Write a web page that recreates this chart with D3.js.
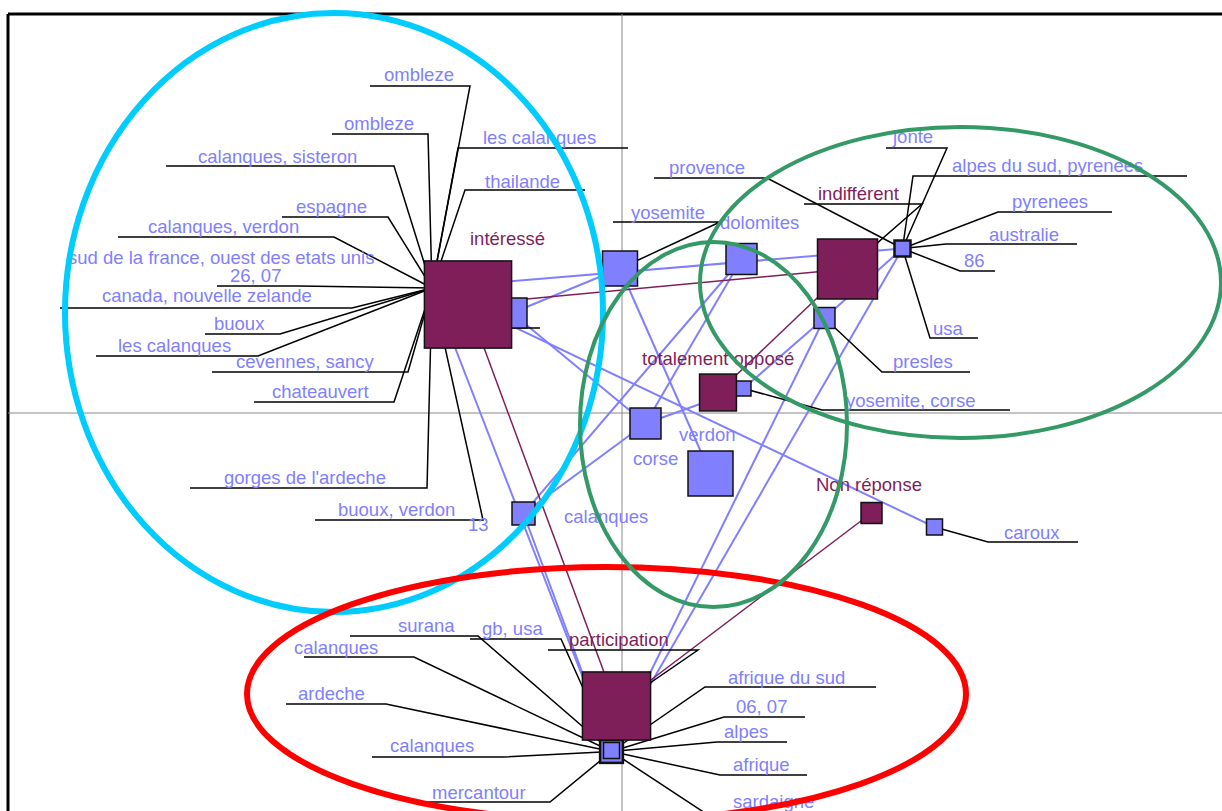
<!DOCTYPE html>
<html>
<head>
  <meta charset="utf-8">
  <title>AFC intérêt / lieux</title>
  <style>
    body { margin: 0; background: #fff; }
    svg { display: block; font-family: "Liberation Sans", Arial, sans-serif; }
  </style>
</head>
<body>
  <svg id="main" width="1222" height="811"></svg>

  <script src="https://cdn.jsdelivr.net/npm/d3@7/dist/d3.min.js"></script>
  <script>
    // modalités de la question (violet) : coordonnées factorielles + effectif
    const catNames = ['intéressé', 'indifférent', 'totalement opposé', 'Non réponse', 'participation']
    const catX = [-1.54, 2.255, 0.96, 2.495, -0.055]
    const catY = [1.085, 1.44, 0.205, -1.00, -2.93]
    const catW = [19, 9, 3.4, 1.1, 11.6]

    // lieux (bleu)
    const placeIds = ['hInt', 'sInt', 'yosemite', 'dolomites', 'hInd', 'presles', 'sTo', 'corse', 'verdon', 'calanques', 'caroux', 'hPart', 'hPart2']
    const placeX = [-1.90, -1.10, -0.02, 1.195, 2.805, 2.025, 1.215, 0.235, 0.885, -0.985, 3.125, -0.105, -0.105]
    const placeY = [1.25, 1.00, 1.445, 1.54, 1.645, 0.95, 0.245, -0.105, -0.605, -1.005, -1.14, -3.385, -3.375]
    const placeW = [0.5, 2.25, 3.06, 2.4, 0.64, 1.1, 0.56, 2.4, 5.06, 1.32, 0.64, 1.3, 0.64]

    const catLinks = [
      ['intéressé', 'indifférent'], ['intéressé', 'participation'],
      ['indifférent', 'totalement opposé'], ['Non réponse', 'participation']
    ]
    const placeLinks = [
      ['hInt', 'hInd'], ['hInt', 'hPart'], ['hInt', 'caroux'], ['sInt', 'yosemite'], ['sInt', 'corse'],
      ['yosemite', 'verdon'], ['dolomites', 'calanques'], ['dolomites', 'corse'], ['presles', 'sTo'],
      ['sTo', 'corse'], ['calanques', 'corse'], ['calanques', 'hPart'], ['hInd', 'hPart'],
      ['presles', 'hPart'], ['hInd', 'presles']
    ]

    // étiquettes : texte, point, x/y du texte, soulignement x1, x2, y, extrémité reliée (0 gauche, 1 droite)
    const placeLabels = [
      ['ombleze', 'hInt', -2.38, 3.32, -2.52, -1.52, 3.27, 1],
      ['ombleze', 'hInt', -2.78, 2.83, -2.90, -1.94, 2.79, 1],
      ['calanques, sisteron', 'hInt', -4.24, 2.50, -4.56, -2.28, 2.47, 1],
      ['les calanques', 'hInt', -1.39, 2.69, -1.64, 0.06, 2.65, 0],
      ['thailande', 'hInt', -1.37, 2.25, -1.57, -0.37, 2.23, 0],
      ['espagne', 'hInt', -3.26, 2.00, -3.40, -2.34, 1.96, 1],
      ['calanques, verdon', 'hInt', -4.74, 1.80, -5.04, -2.88, 1.76, 1],
      ['sud de la france, ouest des etats unis', 'hInt', -5.54, 1.49],
      ['26, 07', 'hInt', -3.92, 1.31, -4.05, -3.23, 1.27, 1],
      ['canada, nouvelle zelande', 'hInt', -5.20, 1.11, -5.62, -2.70, 1.05, 1],
      ['buoux', 'hInt', -4.08, 0.83, -4.17, -3.42, 0.79, 1],
      ['les calanques', 'hInt', -5.04, 0.61, -5.26, -3.64, 0.57, 1],
      ['cevennes, sancy', 'hInt', -3.86, 0.45, -4.10, -2.14, 0.41, 1],
      ['chateauvert', 'hInt', -3.50, 0.15, -3.68, -2.28, 0.11, 1],
      ["gorges de l'ardeche", 'hInt', -3.98, -0.71, -4.32, -1.95, -0.75, 1],
      ['buoux, verdon', 'hInt', -2.84, -1.03, -3.07, -1.39, -1.07, 1],
      ['13', 'hInt', -1.54, -1.18],
      ['', 'sInt', -1.10, 0.85, -1.10, -0.82, 0.85, 0],
      ['jonte', 'hInd', 2.71, 2.70, 2.64, 3.25, 2.65, 1],
      ['alpes du sud, pyrenees', 'hInd', 3.30, 2.41, 2.91, 5.65, 2.37, 0],
      ['provence', 'hInd', 0.47, 2.39, 0.32, 1.45, 2.35, 1],
      ['pyrenees', 'hInd', 3.90, 2.05, 3.76, 4.90, 2.01, 0],
      ['australie', 'hInd', 3.67, 1.72, 3.24, 4.55, 1.69, 0],
      ['86', 'hInd', 3.42, 1.46, 3.38, 3.73, 1.42, 0],
      ['usa', 'hInd', 3.11, 0.78, 3.08, 3.56, 0.75, 0],
      ['presles', 'presles', 2.71, 0.45, 2.60, 3.48, 0.41, 0],
      ['yosemite, corse', 'sTo', 2.24, 0.06, 2.00, 3.88, 0.03, 0],
      ['yosemite', 'yosemite', 0.09, 1.94, -0.09, 0.98, 1.91, 1],
      ['dolomites', 'dolomites', 0.98, 1.84],
      ['verdon', 'verdon', 0.57, -0.28],
      ['corse', 'corse', 0.11, -0.52],
      ['calanques', 'calanques', -0.58, -1.10],
      ['caroux', 'caroux', 3.82, -1.26, 3.66, 4.56, -1.29, 0],
      ['surana', 'hPart', -2.24, -2.19, -2.72, -1.44, -2.23, 1],
      ['gb, usa', 'hPart', -1.40, -2.22, -1.52, -0.61, -2.26, 1],
      ['calanques', 'hPart', -3.28, -2.41, -3.18, -2.08, -2.44, 1],
      ['ardeche', 'hPart', -3.24, -2.87, -3.36, -2.36, -2.91, 1],
      ['calanques', 'hPart', -2.32, -3.39, -2.50, -1.19, -3.44, 1],
      ['mercantour', 'hPart', -1.90, -3.86, -2.08, -0.72, -3.89, 1],
      ['afrique du sud', 'hPart', 1.06, -2.71, 0.83, 2.54, -2.74, 0],
      ['06, 07', 'hPart', 1.14, -3.00, 1.02, 1.83, -3.04, 0],
      ['alpes', 'hPart', 1.02, -3.25, 0.95, 1.65, -3.29, 0],
      ['afrique', 'hPart', 1.11, -3.58, 0.98, 1.85, -3.62, 0],
      ['sardaigne', 'hPart', 1.11, -3.95, 0.83, 1.93, -4.00, 0]
    ]
    const catLabels = [
      ['intéressé', 'intéressé', -1.52, 1.68],
      ['indifférent', 'indifférent', 1.96, 2.13, 1.82, 3.00, 2.09, 1],
      ['totalement opposé', 'totalement opposé', 0.20, 0.48],
      ['Non réponse', 'Non réponse', 1.94, -0.78],
      ['participation', 'participation', -0.53, -2.33, -0.74, 0.76, -2.37, 1]
    ]

    // zones entourées
    const zoneCx = [-2.88, -0.155, 0.915, 3.385]
    const zoneCy = [1.005, -2.81, -0.115, 1.305]
    const zoneRx = [2.69, 3.595, 1.335, 2.605]
    const zoneRy = [2.995, 1.27, 1.825, 1.555]

    const config = {
      catColor: '#7f1f5a',
      placeColor: '#8080ff',
      zoneColors: ['#00ccff', '#ff0000', '#339966', '#339966'],
      zoneWidths: [6, 6, 4, 4],
      fontSize: '18.5px'
    }

    const svg = d3.select('#main')

    const xScale = d3.scaleLinear().domain([-6.14, 6.00]).range([8, 1222])
    const yScale = d3.scaleLinear().domain([-3.98, 3.99]).range([811, 14])
    const side = d3.scaleSqrt().domain([0, 1]).range([0, 20])

    const nodes = new Map()
    catNames.forEach((n, i) => nodes.set(n, { id: n, x: catX[i], y: catY[i], w: catW[i], kind: 'cat' }))
    placeIds.forEach((n, i) => nodes.set(n, { id: n, x: placeX[i], y: placeY[i], w: placeW[i], kind: 'place' }))

    // cadre
    svg.append('line')
      .attr('x1', xScale.range()[0]).attr('x2', xScale.range()[1])
      .attr('y1', yScale.range()[1]).attr('y2', yScale.range()[1])
      .attr('stroke', '#000').attr('stroke-width', 3)
    svg.append('line')
      .attr('x1', xScale.range()[0]).attr('x2', xScale.range()[0])
      .attr('y1', yScale.range()[1]).attr('y2', yScale.range()[0])
      .attr('stroke', '#000').attr('stroke-width', 3)

    // axes factoriels
    svg.append('line')
      .attr('x1', xScale(0)).attr('x2', xScale(0))
      .attr('y1', yScale.range()[1]).attr('y2', yScale.range()[0])
      .attr('stroke', '#888').attr('stroke-width', 1)
    svg.append('line')
      .attr('x1', xScale.range()[0]).attr('x2', xScale.range()[1])
      .attr('y1', yScale(0)).attr('y2', yScale(0))
      .attr('stroke', '#888').attr('stroke-width', 1)

    // liens
    const links = svg.append('g')
    links.selectAll('.plink').data(placeLinks).join('line')
      .attr('x1', d => xScale(nodes.get(d[0]).x)).attr('y1', d => yScale(nodes.get(d[0]).y))
      .attr('x2', d => xScale(nodes.get(d[1]).x)).attr('y2', d => yScale(nodes.get(d[1]).y))
      .attr('stroke', config.placeColor).attr('stroke-width', 2)
    links.selectAll('.clink').data(catLinks).join('line')
      .attr('x1', d => xScale(nodes.get(d[0]).x)).attr('y1', d => yScale(nodes.get(d[0]).y))
      .attr('x2', d => xScale(nodes.get(d[1]).x)).attr('y2', d => yScale(nodes.get(d[1]).y))
      .attr('stroke', config.catColor).attr('stroke-width', 1.5)

    // traits de rappel des étiquettes
    const allLabels = placeLabels.map(d => ({ d, color: config.placeColor }))
      .concat(catLabels.map(d => ({ d, color: config.catColor })))

    const leader = d3.line().x(p => xScale(p[0])).y(p => yScale(p[1]))
    svg.append('g').selectAll('path')
      .data(allLabels.filter(l => l.d.length > 4))
      .join('path')
      .attr('d', l => {
        const [, id, , , x1, x2, uy, end] = l.d
        const n = nodes.get(id)
        const pts = end === 0
          ? [[n.x, n.y], [x1, uy], [x2, uy]]
          : [[x1, uy], [x2, uy], [n.x, n.y]]
        return leader(pts)
      })
      .attr('fill', 'none')
      .attr('stroke', '#000')
      .attr('stroke-width', 1.5)

    // points
    const drawNodes = (kind, fill) => {
      svg.append('g').selectAll('rect')
        .data([...nodes.values()].filter(n => n.kind === kind))
        .join('rect')
        .attr('x', n => xScale(n.x) - side(n.w) / 2)
        .attr('y', n => yScale(n.y) - side(n.w) / 2)
        .attr('width', n => side(n.w))
        .attr('height', n => side(n.w))
        .attr('fill', fill)
        .attr('stroke', '#111')
        .attr('stroke-width', n => (n.id === 'hInd' || n.id === 'hPart') ? 2.5 : 1.5)
    }
    drawNodes('place', config.placeColor)
    drawNodes('cat', config.catColor)

    // textes
    svg.append('g').selectAll('text')
      .data(allLabels.filter(l => l.d[0] !== ''))
      .join('text')
      .attr('x', l => xScale(l.d[2]))
      .attr('y', l => yScale(l.d[3]))
      .attr('fill', l => l.color)
      .attr('font-size', config.fontSize)
      .text(l => l.d[0])

    // ellipses de regroupement
    svg.append('g').selectAll('ellipse')
      .data(zoneCx.map((cx, i) => i))
      .join('ellipse')
      .attr('cx', i => xScale(zoneCx[i]))
      .attr('cy', i => yScale(zoneCy[i]))
      .attr('rx', i => xScale(zoneRx[i]) - xScale(0))
      .attr('ry', i => yScale(0) - yScale(zoneRy[i]))
      .attr('fill', 'none')
      .attr('stroke', i => config.zoneColors[i])
      .attr('stroke-width', i => config.zoneWidths[i])
  </script>
</body>
</html>
